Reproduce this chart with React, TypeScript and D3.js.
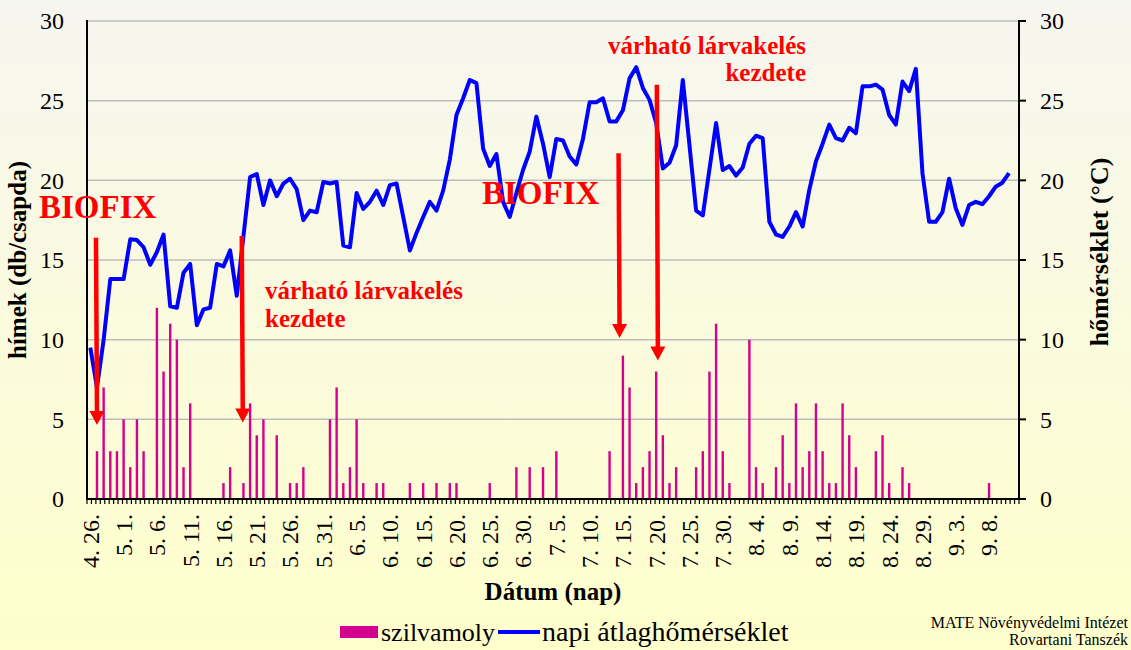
import React from 'react';
import * as d3 from 'd3';

// daily catches (db/csapda), 4.26. – 9.12.
const catches = [
  0, 3, 7, 3, 3, 5, 2, 5, 3, 0,
  12, 8, 11, 10, 2, 6, 0, 0, 0, 0,
  1, 2, 0, 1, 6, 4, 5, 0, 4, 0,
  1, 1, 2, 0, 0, 0, 5, 7, 1, 2,
  5, 1, 0, 1, 1, 0, 0, 0, 1, 0,
  1, 0, 1, 0, 1, 1, 0, 0, 0, 0,
  1, 0, 0, 0, 2, 0, 2, 0, 2, 0,
  3, 0, 0, 0, 0, 0, 0, 0, 3, 0,
  9, 7, 1, 2, 3, 8, 4, 1, 2, 0,
  0, 2, 3, 8, 11, 3, 1, 0, 0, 10,
  2, 1, 0, 2, 4, 1, 6, 2, 3, 6,
  3, 1, 1, 6, 4, 2, 0, 0, 3, 4,
  1, 0, 2, 1, 0, 0, 0, 0, 0, 0,
  0, 0, 0, 0, 0, 1, 0, 0, 0, 0,
];

// napi átlaghőmérséklet (°C)
const temperature = [
  9.5, 7.0, 10.0, 13.8, 13.8, 13.8, 16.3, 16.25, 15.8, 14.7,
  15.5, 16.6, 12.1, 12.0, 14.2, 14.75, 10.9, 11.9, 12.0, 14.75,
  14.6, 15.6, 12.75, 16.5, 20.2, 20.4, 18.45, 20.0, 19.0, 19.8,
  20.1, 19.45, 17.5, 18.1, 18.0, 19.9, 19.8, 19.9, 15.9, 15.8,
  19.2, 18.2, 18.65, 19.35, 18.45, 19.7, 19.8, 17.7, 15.6, 16.7,
  17.7, 18.65, 18.1, 19.35, 21.3, 24.1, 25.15, 26.3, 26.1, 22.0,
  20.9, 21.65, 18.65, 17.7, 19.2, 20.65, 21.8, 24.0, 22.3, 20.2,
  22.6, 22.5, 21.5, 21.0, 22.6, 24.9, 24.9, 25.15, 23.7, 23.7,
  24.4, 26.4, 27.1, 25.8, 25.05, 23.6, 20.75, 21.1, 22.2, 26.3,
  22.2, 18.1, 17.8, 20.7, 23.6, 20.65, 20.9, 20.3, 20.8, 22.3,
  22.8, 22.65, 17.4, 16.6, 16.45, 17.1, 18.0, 17.1, 19.4, 21.2,
  22.3, 23.5, 22.65, 22.5, 23.3, 22.95, 25.9, 25.9, 26.0, 25.7,
  24.1, 23.5, 26.2, 25.6, 27.0, 20.45, 17.4, 17.4, 18.0, 20.1,
  18.25, 17.2, 18.45, 18.65, 18.5, 19.0, 19.6, 19.85, 20.45,
];

const tickLabels = [
  '4. 26.', '5. 1.', '5. 6.', '5. 11.', '5. 16.', '5. 21.', '5. 26.', '5. 31.',
  '6. 5.', '6. 10.', '6. 15.', '6. 20.', '6. 25.', '6. 30.', '7. 5.', '7. 10.',
  '7. 15.', '7. 20.', '7. 25.', '7. 30.', '8. 4.', '8. 9.', '8. 14.', '8. 19.',
  '8. 24.', '8. 29.', '9. 3.', '9. 8.',
];

const yTicks = [0, 5, 10, 15, 20, 25, 30];

// red arrows: day position (0 = 4.26.), start value, tip value
const arrows = [
  { day: 1.5, from: 16.4, to: 4.65 },
  { day: 23.4, from: 16.5, to: 4.8 },
  { day: 80.0, from: 21.7, to: 10.1 },
  { day: 85.75, from: 26.0, to: 8.7 },
];

const categories = d3.timeDay
  .range(new Date(2021, 3, 26), new Date(2021, 8, 13))
  .map((d) => `${d.getMonth() + 1}. ${d.getDate()}.`);

const W = 1131;
const H = 650;
const left = 87;
const right = 1019;
const top = 21;
const bottom = 499;
const serif = "'Liberation Serif', 'DejaVu Serif', serif";
const barColor = '#D4008F';

export default function App() {
  const x = d3.scaleBand<string>().domain(categories).range([left, right]);
  const xc = (c: string) => (x(c) as number) + x.bandwidth() / 2;
  const dayX = d3.scaleLinear().domain([0, categories.length]).range([left, right]);
  const y = d3.scaleLinear().domain([0, 30]).range([bottom, top]);
  const minorTicks = d3.scaleLinear().domain([0, 210]).range([left, right]);

  const line = d3
    .line<number>()
    .x((_, i) => xc(categories[i]))
    .y((v) => y(v));

  return (
    <svg width={W} height={H} style={{ position: 'absolute', left: 0, top: 0 }} fontFamily={serif}>
      <defs>
        <linearGradient id="bg" x1="0" y1="0" x2="0" y2="1">
          <stop offset="0" stopColor="#F6F6F0" />
          <stop offset="1" stopColor="#FFFFCC" />
        </linearGradient>
      </defs>
      <rect width={W} height={H} fill="url(#bg)" />

      {/* gridlines */}
      {yTicks.slice(1).map((t) => (
        <line key={t} x1={left} x2={right} y1={y(t)} y2={y(t)} stroke="#BDBDBD" strokeWidth={1.5} />
      ))}

      {/* bars */}
      {catches.map((v, i) =>
        v > 0 ? (
          <rect key={i} x={xc(categories[i]) - 1.2} y={y(v)} width={2.4} height={y(0) - y(v)} fill={barColor} />
        ) : null
      )}

      {/* temperature line */}
      <path d={line(temperature) || ''} fill="none" stroke="#0000FF" strokeWidth={4} strokeLinejoin="round" />

      {/* axes */}
      <line x1={left} x2={left} y1={top - 1} y2={bottom + 1} stroke="#000" strokeWidth={2} />
      <line x1={right} x2={right} y1={top - 1} y2={bottom + 1} stroke="#000" strokeWidth={2} />
      <line x1={left} x2={right} y1={bottom} y2={bottom} stroke="#000" strokeWidth={2} />
      {yTicks.map((t) => (
        <line key={t} x1={right} x2={right + 7} y1={y(t)} y2={y(t)} stroke="#000" strokeWidth={2} />
      ))}
      {d3.range(0, 211).map((k) => (
        <line key={k} x1={minorTicks(k)} x2={minorTicks(k)} y1={bottom} y2={bottom + 5} stroke="#000" strokeWidth={1.2} />
      ))}

      {/* y tick labels */}
      {yTicks.map((t) => (
        <g key={t}>
          <text x={64} y={y(t)} dy="0.35em" textAnchor="end" fontSize={24}>{t}</text>
          <text x={1040} y={y(t)} dy="0.35em" textAnchor="start" fontSize={24}>{t}</text>
        </g>
      ))}

      {/* x tick labels */}
      {tickLabels.map((lab) => (
        <text
          key={lab}
          transform={`translate(${xc(lab)},${bottom + 15}) rotate(-90)`}
          dy="0.35em"
          textAnchor="end"
          fontSize={24}
        >
          {lab}
        </text>
      ))}

      {/* axis titles */}
      <text transform={`translate(18,${(top + bottom) / 2}) rotate(-90)`} dy="0.3em" textAnchor="middle" fontSize={25} fontWeight="bold">
        hímek (db/csapda)
      </text>
      <text transform={`translate(1099,${(top + bottom) / 2 - 8}) rotate(-90)`} dy="0.35em" textAnchor="middle" fontSize={26} fontWeight="bold">
        hőmérséklet (°C)
      </text>
      <text x={(left + right) / 2} y={600} textAnchor="middle" fontSize={25} fontWeight="bold">
        Dátum (nap)
      </text>

      {/* arrows */}
      {arrows.map((a, k) => {
        const ax = dayX(a.day);
        const tip = y(a.to);
        return (
          <g key={k} fill="#FF0000">
            <line x1={ax - 1} x2={ax} y1={y(a.from)} y2={tip - 12} stroke="#FF0000" strokeWidth={4.5} />
            <path d={`M${ax - 7.5},${tip - 14} L${ax + 7.5},${tip - 14} L${ax},${tip} Z`} />
          </g>
        );
      })}

      {/* annotations */}
      <g fill="#FF0000" fontWeight="bold">
        <text x={39} y={218} fontSize={33}>BIOFIX</text>
        <text x={482} y={204} fontSize={33}>BIOFIX</text>
        <text x={265} y={299} fontSize={25}>várható lárvakelés</text>
        <text x={265} y={327} fontSize={25}>kezdete</text>
        <text x={806} y={54} fontSize={25} textAnchor="end">várható lárvakelés</text>
        <text x={806} y={81} fontSize={25} textAnchor="end">kezdete</text>
      </g>

      {/* legend */}
      <rect x={340} y={626} width={38} height={12} fill={barColor} />
      <text x={381} y={641} fontSize={26}>szilvamoly</text>
      <line x1={498} x2={540} y1={632} y2={632} stroke="#0000FF" strokeWidth={4} />
      <text x={542} y={641} fontSize={28}>napi átlaghőmérséklet</text>

      {/* source */}
      <text x={1128} y={628} fontSize={16} textAnchor="end">MATE Növényvédelmi Intézet</text>
      <text x={1128} y={645} fontSize={16} textAnchor="end">Rovartani Tanszék</text>
    </svg>
  );
}
